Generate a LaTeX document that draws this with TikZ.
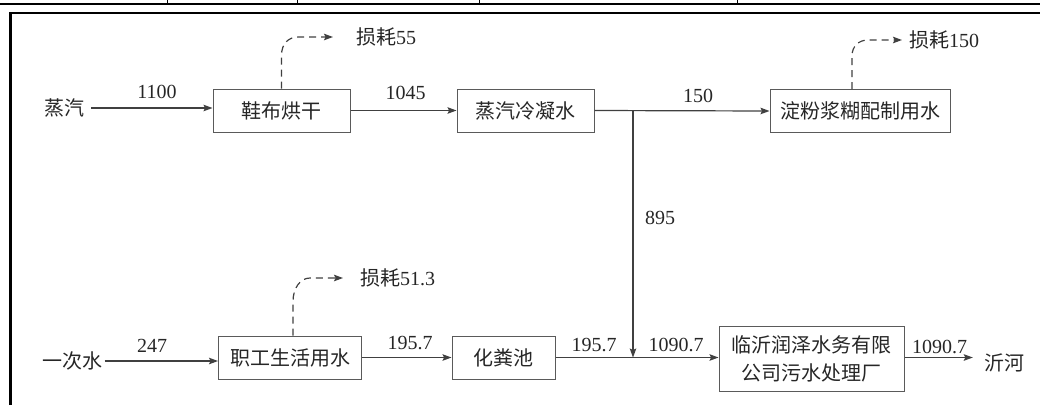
\documentclass[tikz,border=0pt]{standalone}
\usepackage{fontspec}
\setmainfont{Liberation Serif}
\newfontfamily\cjk{Noto Sans CJK SC}
\usetikzlibrary{arrows.meta,calc}
\definecolor{linecol}{HTML}{404040}
\definecolor{boxcol}{HTML}{5A5A5A}
\definecolor{txtcol}{HTML}{262626}
\begin{document}
\begin{tikzpicture}[x=1pt,y=-1pt,
  conn/.style={draw=linecol, line width=1.2pt, -{Stealth[length=9pt,width=6.5pt,inset=1.5pt]}},
  loss/.style={conn, dash pattern=on 7pt off 5pt},
  box/.style={draw=boxcol, line width=1pt, inner sep=0pt, font=\cjk\fontsize{20}{28}\selectfont, text=txtcol},
  cn/.style={inner sep=0pt, font=\cjk\fontsize{20}{24}\selectfont, text=txtcol},
  num/.style={inner sep=0pt, font=\fontsize{20}{24}\selectfont, text=txtcol},
  lossnode/.style={inner sep=0pt, anchor=west, text=txtcol, font=\fontsize{20}{24}\selectfont},
  frame/.style={line width=2.2pt, draw=black},
]
\useasboundingbox (0,0) rectangle (1040,405);
% frame
\draw[frame] (0,4) -- (1040,4);
\foreach \x in {167,297,479,737} \draw[line width=1pt] (\x,0) -- (\x,4);
\draw[frame] (10.5,405) -- (10.5,13) -- (1040,13);

% boxes
\node[box, minimum width=137pt, minimum height=43pt] (shoe) at (281.5,110.5) {鞋布烘干};
\node[box, minimum width=137pt, minimum height=43pt] (cond) at (525.5,110.5) {蒸汽冷凝水};
\node[box, minimum width=180pt, minimum height=43pt] (starch) at (860,111) {淀粉浆糊配制用水};
\node[box, minimum width=143pt, minimum height=43pt] (staff) at (290,357.5) {职工生活用水};
\node[box, minimum width=103pt, minimum height=43pt] (septic) at (503.5,357.5) {化粪池};
\node[box, minimum width=185pt, minimum height=65pt, align=center] (plant) at (811.5,358.5) {临沂润泽水务有限\\公司污水处理厂};

% free texts
\node[cn] (steam) at (64,108) {蒸汽};
\node[cn] (water) at (72,361) {一次水};
\node[cn] (river) at (1004,362.5) {沂河};
\node[lossnode] (loss55) at (356,37) {{\cjk 损耗}55};
\node[lossnode] (loss150) at (909,40) {{\cjk 损耗}150};
\node[lossnode] (loss513) at (360,278) {{\cjk 损耗}51.3};

% number labels
\node[num] (l1100) at (157,92) {1100};
\node[num] (l1045) at (405.5,92.5) {1045};
\node[num] (l150) at (698,95.5) {150};
\node[num] (l895) at (660,218) {895};
\node[num] (l247) at (152,345.5) {247};
\node[num] (l1957a) at (410,343.5) {195.7};
\node[num] (l1957b) at (594,345) {195.7};
\node[num] (l10907a) at (676,345) {1090.7};
\node[num] (l10907b) at (939.5,346.5) {1090.7};

% junction coordinates
\coordinate (jtop) at (633,0 |- cond.east);
\coordinate (jbot) at (633,0 |- septic.east);

% connectors
\draw[conn, shorten <=7pt] (steam.east) -- (steam.east -| shoe.west);
\draw[conn] (shoe.east) -- (cond.west);
\draw[conn] (cond.east) -- (starch.west);
\draw[conn] (jtop) -- (jbot);
\draw[conn, shorten <=2.5pt] (water.east) -- (water.east -| staff.west);
\draw[conn] (staff.east) -- (septic.west);
\draw[conn] (septic.east) -- (septic.east -| plant.west);
\draw[conn, shorten >=11pt] (plant.east |- septic.east) -- (septic.east -| river.west);

% loss connectors
\coordinate (s150) at ($(starch.north)+(-8,0)$);
\coordinate (s513) at ($(staff.north)+(3,0)$);
\draw[loss, shorten >=23pt] (shoe.north) -- ++(0,-33)
  .. controls +(0,-12) and +(-10,0) .. ($(shoe.north |- loss55.west)+(17,0)$) -- (loss55.west);
\draw[loss, shorten >=7pt] (s150) -- ++(0,-33)
  .. controls +(0,-10) and +(-9,0) .. ($(s150 |- loss150.west)+(16,0)$) -- (loss150.west);
\draw[loss, shorten >=17pt] (s513) -- ++(0,-34)
  .. controls +(0,-13) and +(-10,0) .. ($(s513 |- loss513.west)+(17,0)$) -- (loss513.west);
\end{tikzpicture}
\end{document}
